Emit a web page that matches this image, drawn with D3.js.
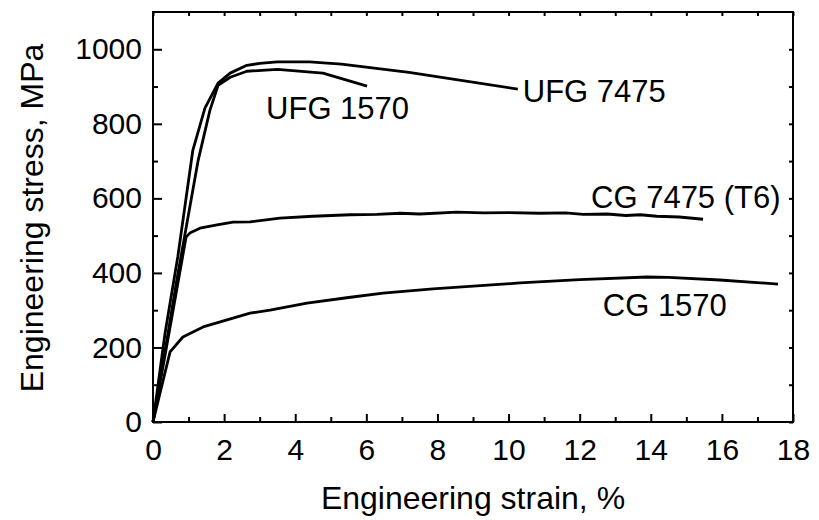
<!DOCTYPE html>
<html>
<head>
<meta charset="utf-8">
<script src="https://cdn.jsdelivr.net/npm/d3@7"></script>
<style>
  body { margin: 0; background: #fff; }
  text { font-family: "Liberation Sans", Arial, sans-serif; fill: #000; }
</style>
</head>
<body>
<div id="chart"></div>
<script>
// strain (%) / stress (MPa)
const ufg7475 = [[0,0],[0.34,239],[0.7,445],[1.12,729],[1.46,842],[1.83,909],[2.17,936],[2.64,957],[3.0,962],[3.5,966],[4.4,966],[5.3,960],[7.2,938],[10.26,893]];
const ufg1570 = [[0,0],[0.4,225],[0.67,381],[1.27,702],[1.6,836],[1.83,903],[2.17,925],[2.64,941],[3.5,946],[4.78,936],[6.02,901]];
const cg7475 = [[0,0],[0.5,265],[0.93,496],[1.05,508],[1.32,520],[1.8,529],[2.25,536],[2.73,537],[3.57,547],[4.5,552],[5.54,556],[6.3,557],[6.95,560],[7.5,558],[8.55,563],[9.3,561],[10.0,562],[10.88,560],[11.6,561],[12.1,557],[12.77,558],[13.3,554],[13.7,556],[14.17,552],[14.8,550],[15.47,544]];
const cg1570 = [[0,0],[0.48,188],[0.84,228],[1.41,255],[2.73,292],[3.29,300],[4.33,319],[5.5,334],[6.47,346],[7.87,357],[10.32,373],[12,382],[13.9,389],[14.5,388],[15.94,381],[17.58,370]];

const strainTicks = [0,2,4,6,8,10,12,14,16,18];
const stressTicks = [0,200,400,600,800,1000];

// label text and anchor point (strain, stress) of the start of the text baseline
const labels = [
  {text: "UFG 1570", at: [3.18, 812]},
  {text: "UFG 7475", at: [10.4, 858]},
  {text: "CG 7475 (T6)", at: [12.32, 574]},
  {text: "CG 1570", at: [12.65, 284]}
];

const width = 819, height = 520;
const margin = {top: 12, right: 26, bottom: 98, left: 153};

const svg = d3.select("#chart")
  .append("svg")
  .attr("width", width)
  .attr("height", height);

const x = d3.scaleLinear().domain([0, 18]).range([margin.left, width - margin.right]);
const y = d3.scaleLinear().domain([0, 1100]).range([height - margin.bottom, margin.top]);

const line = d3.line()
  .x(d => x(d[0]))
  .y(d => y(d[1]));

//curves
[ufg7475, ufg1570, cg7475, cg1570].forEach(s => {
  svg.append("path")
    .datum(s)
    .attr("d", line)
    .attr("fill", "none")
    .attr("stroke", "#000")
    .attr("stroke-width", 2.8)
    .attr("stroke-linejoin", "round");
});

//bottom axis, major + minor ticks pointing inward
const bottom = svg.append("g").attr("transform", `translate(0,${y(0)})`);
bottom.append("g")
  .call(d3.axisBottom(x).tickValues(d3.range(1, 18, 2)).tickSize(-5).tickFormat(""));
bottom.append("g")
  .call(d3.axisBottom(x).tickValues(strainTicks).tickSize(-8).tickPadding(12).tickFormat(d3.format("d")))
  .selectAll("text")
  .attr("font-size", 30)
  .attr("dy", "0.88em");

//left axis
const left = svg.append("g").attr("transform", `translate(${x(0)},0)`);
left.append("g")
  .call(d3.axisLeft(y).tickValues(d3.range(100, 1100, 200)).tickSize(-5).tickFormat(""));
left.append("g")
  .call(d3.axisLeft(y).tickValues(stressTicks).tickSize(-9).tickPadding(11).tickFormat(d3.format("d")))
  .selectAll("text")
  .attr("font-size", 30);

//top and right axes: small ticks only
svg.append("g")
  .attr("transform", `translate(0,${y(1100)})`)
  .call(d3.axisTop(x).ticks(18).tickSize(-4).tickFormat(""));
svg.append("g")
  .attr("transform", `translate(${x(18)},0)`)
  .call(d3.axisRight(y).tickValues(d3.range(0, 1100, 100)).tickSize(-4).tickFormat(""));

svg.selectAll(".domain").remove();
svg.selectAll(".tick line").attr("stroke", "#000").attr("stroke-width", 2);

//frame
svg.append("rect")
  .attr("x", x(0))
  .attr("y", y(1100))
  .attr("width", x(18) - x(0))
  .attr("height", y(0) - y(1100))
  .attr("fill", "none")
  .attr("stroke", "#000")
  .attr("stroke-width", 2);

//curve labels
svg.selectAll(".lbl")
  .data(labels)
  .enter()
  .append("text")
  .attr("x", d => x(d.at[0]))
  .attr("y", d => y(d.at[1]))
  .attr("font-size", 31)
  .text(d => d.text);

//axis titles
svg.append("text")
  .attr("x", (x(0) + x(18)) / 2)
  .attr("y", 509)
  .attr("text-anchor", "middle")
  .attr("font-size", 32)
  .text("Engineering strain, %");

svg.append("text")
  .attr("transform", `translate(43,${(y(0) + y(1100)) / 2 + 1}) rotate(-90)`)
  .attr("text-anchor", "middle")
  .attr("font-size", 32)
  .text("Engineering stress, MPa");
</script>
</body>
</html>
